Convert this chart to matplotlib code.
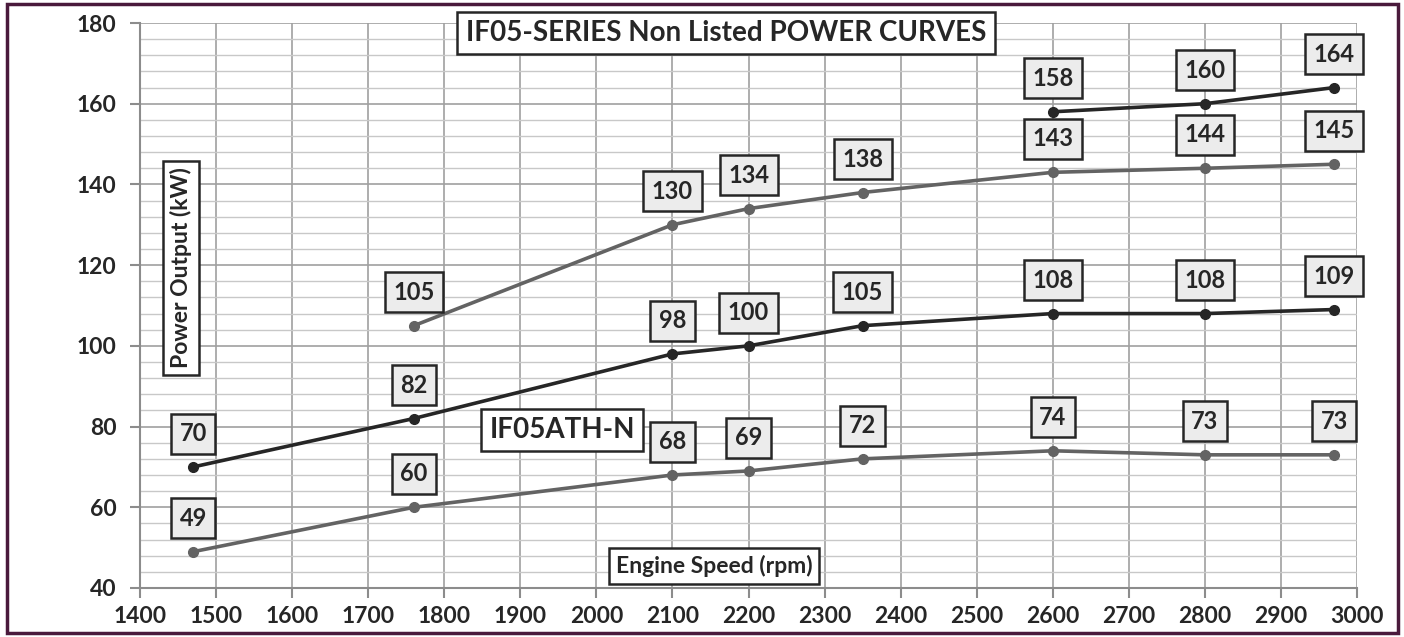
import matplotlib
matplotlib.use("Agg")
import matplotlib.pyplot as plt
from matplotlib.ticker import MultipleLocator
from matplotlib.patches import Rectangle

plt.rcParams['font.family'] = ['Lato', 'DejaVu Sans']

# Data
x_top = [2600, 2800, 2970]
y_top = [158, 160, 164]
x_s2 = [1760, 2100, 2200, 2350, 2600, 2800, 2970]
y_s2 = [105, 130, 134, 138, 143, 144, 145]
x_s3 = [1470, 1760, 2100, 2200, 2350, 2600, 2800, 2970]
y_s3 = [70, 82, 98, 100, 105, 108, 108, 109]
x_s4 = [1470, 1760, 2100, 2200, 2350, 2600, 2800, 2970]
y_s4 = [49, 60, 68, 69, 72, 74, 73, 73]

x_ticks = list(range(1400, 3001, 100))
y_ticks = list(range(40, 181, 20))

title = "IF05-SERIES Non Listed POWER CURVES"
series_label = "IF05ATH-N"
xlabel = "Engine Speed (rpm)"
ylabel = "Power Output (kW)"

DARK = "#262626"
GRAY = "#636363"

fig = plt.figure(figsize=(14.04, 6.37), dpi=100)
ax = fig.add_axes([140/1404, 1-588/637, (1357-140)/1404, (588-23)/637])

ax.set_xlim(1400, 3000)
ax.set_ylim(40, 180)
ax.set_xticks(x_ticks)
ax.set_yticks(y_ticks)
ax.yaxis.set_minor_locator(MultipleLocator(4))
ax.grid(which='major', axis='both', color='#a0a0a0', lw=1.2)
ax.grid(which='minor', axis='y', color='#c8c8c8', lw=1.0)
ax.set_axisbelow(True)
for s in ['top', 'right']:
    ax.spines[s].set_visible(False)
for s in ['left', 'bottom']:
    ax.spines[s].set_color('#8c8c8c')
    ax.spines[s].set_linewidth(1.5)
ax.tick_params(which='major', length=7, width=1.5, color='#8c8c8c',
               labelsize=16.5, labelcolor='#262626')
ax.tick_params(which='minor', length=0)
for lab in ax.get_xticklabels() + ax.get_yticklabels():
    lab.set_fontweight('bold')
ax.tick_params(axis='x', pad=6)
ax.tick_params(axis='y', pad=10)

def draw(xs, ys, color):
    ax.plot(xs, ys, color=color, lw=2.6, marker='o', ms=7, zorder=3)
    for x, y in zip(xs, ys):
        ax.annotate(str(y), (x, y), xytext=(0, 24), textcoords='offset points',
                    ha='center', va='center', fontsize=17, fontweight='bold',
                    color='#262626', zorder=5,
                    bbox=dict(boxstyle='square,pad=0.36', fc='#ececec',
                              ec='#262626', lw=1.8))

draw(x_top, y_top, DARK)
draw(x_s2, y_s2, GRAY)
draw(x_s3, y_s3, DARK)
draw(x_s4, y_s4, GRAY)

box = dict(boxstyle='square,pad=0.3', fc='white', ec='#262626', lw=1.8)
fig.text(726/1404, 1-33/637, title, ha='center', va='center', fontsize=20,
         fontweight='bold', color='#262626', bbox=box)
fig.text(562/1404, 1-430/637, series_label, ha='center', va='center', fontsize=20,
         fontweight='bold', color='#262626', bbox=box)
fig.text(714/1404, 1-566/637, xlabel, ha='center', va='center', fontsize=16.5,
         fontweight='bold', color='#262626',
         bbox=dict(boxstyle='square,pad=0.3', fc='white', ec='#262626', lw=1.8))
fig.text(181/1404, 1-268/637, ylabel, ha='center', va='center', fontsize=16.5,
         fontweight='bold', color='#262626', rotation=90,
         bbox=dict(boxstyle='square,pad=0.3', fc='white', ec='#262626', lw=1.8))

fig.patches.append(Rectangle((7/1404, 4/637), 1391/1404, 629/637,
                             transform=fig.transFigure, fill=False,
                             ec='#4a1a3c', lw=2.5))

fig.savefig('out.png', dpi=100)
